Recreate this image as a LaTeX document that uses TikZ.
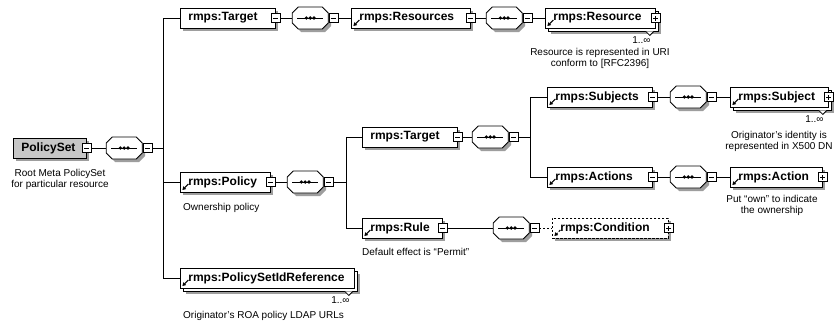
\documentclass[tikz,border=0pt]{standalone}
\usepackage{fontspec}
\setmainfont{Liberation Sans}
\usetikzlibrary{shadows,arrows.meta}
\newcommand\labfont{\fontsize{12}{14}\selectfont\bfseries}
\newcommand\notefont{\fontsize{10}{11.5}\selectfont}
\begin{document}
\begin{tikzpicture}[x=1pt,y=-1pt,
  link/.style={line width=0.8pt},
  base/.style={draw=black, line width=0.8pt, rectangle, fill=white,
    inner xsep=8pt, inner ysep=0pt, minimum height=20pt, anchor=west,
    font=\labfont, align=left},
  shad/.style={drop shadow={shadow xshift=3pt, shadow yshift=-3pt,
    fill=black!38, opacity=1}},
  multi/.style={drop shadow={shadow xshift=6pt, shadow yshift=-6pt,
      fill=black!38, opacity=1},
    copy shadow={shadow xshift=3pt, shadow yshift=-3pt, draw=black,
      fill=white, line width=0.8pt}},
  refmark/.style={path picture={
    \draw[line width=1pt,-{Triangle[length=3.4pt,width=3.8pt]}]
      ([xshift=8pt,yshift=8pt]path picture bounding box.south west) --
      ([xshift=2pt,yshift=2pt]path picture bounding box.south west);}},
  seq/.style={rectangle, minimum width=36pt, minimum height=22pt,
    inner sep=0pt, anchor=west},
  octo/.pic={
    \fill[black!38] (-9,-8) -- (15,-8) -- (21,-2) -- (21,8) -- (15,14)
      -- (-9,14) -- (-15,8) -- (-15,-2) -- cycle;
    \filldraw[fill=white,line width=0.8pt] (-12,-11) -- (12,-11) -- (18,-5)
      -- (18,5) -- (12,11) -- (-12,11) -- (-18,5) -- (-18,-5) -- cycle;
    \draw[line width=1pt] (-13,0) -- (13,0);
    \foreach \d in {-3.8,0,3.8} \fill (\d,0) circle (1.8pt);
  },
  pmbox/.style={rectangle, draw=black, line width=0.8pt, fill=white,
    minimum size=9pt, inner sep=0pt},
  minus/.style={pmbox, path picture={
    \draw[line width=0.8pt] ([xshift=2pt]path picture bounding box.west) --
      ([xshift=-2pt]path picture bounding box.east);}},
  plus/.style={pmbox, path picture={
    \draw[line width=0.8pt] ([xshift=2pt]path picture bounding box.west) --
      ([xshift=-2pt]path picture bounding box.east);
    \draw[line width=0.8pt] ([yshift=2pt]path picture bounding box.south) --
      ([yshift=-2pt]path picture bounding box.north);}},
  note/.style={font=\notefont, align=center, inner sep=0pt, anchor=north},
  lnote/.style={font=\notefont, align=left, inner sep=0pt, anchor=north west},
  card/.style={font=\notefont, inner sep=0pt, anchor=north east},
]
\path[fill=white] (0,0) rectangle (838,327);
\useasboundingbox (0,0) rectangle (838,327);

% root element and its sequence
\node[base,shad,fill=black!22,text width=57pt] (ps) at (13,148) {PolicySet};
\node[minus] (psm) at (ps.east) {};
\node[seq] (s0) at (106,148) {};
\pic at (s0.center) {octo};
\node[minus] (s0m) at ([xshift=5pt]s0.east) {};
\coordinate (j0) at (163,148);

% rmps:Target -> rmps:Resources -> rmps:Resource
\node[base,shad,text width=79pt] (t1) at (180,18) {rmps:Target};
\node[minus] (t1m) at (t1.east) {};
\node[seq] (s1) at (292,18) {};
\pic at (s1.center) {octo};
\node[minus] (s1m) at ([xshift=5pt]s1.east) {};
\node[base,shad,refmark,text width=103pt] (res) at (351,18) {rmps:Resources};
\node[minus] (resm) at (res.east) {};
\node[seq] (s2) at (486,18) {};
\pic at (s2.center) {octo};
\node[minus] (s2m) at ([xshift=5pt]s2.east) {};
\node[base,multi,refmark,text width=94pt] (rs) at (545,18) {rmps:Resource};
\node[plus] (rsp) at (rs.east) {};

% rmps:Policy
\node[base,shad,refmark,text width=74pt] (pol) at (180,182) {rmps:Policy};
\node[minus] (polm) at (pol.east) {};
\node[seq] (s3) at (287,182) {};
\pic at (s3.center) {octo};
\node[minus] (s3m) at ([xshift=5pt]s3.east) {};
\coordinate (j1) at (346,182);

% rmps:Target inside the policy
\node[base,shad,text width=79pt] (t2) at (362,137) {rmps:Target};
\node[minus] (t2m) at (t2.east) {};
\node[seq] (s4) at (472,137) {};
\pic at (s4.center) {octo};
\node[minus] (s4m) at ([xshift=5pt]s4.east) {};
\coordinate (j2) at (530,137);

% subjects
\node[base,shad,refmark,text width=89pt] (subs) at (547,97) {rmps:Subjects};
\node[minus] (subsm) at (subs.east) {};
\node[seq] (s5) at (670,97) {};
\pic at (s5.center) {octo};
\node[minus] (s5m) at ([xshift=5pt]s5.east) {};
\node[base,multi,refmark,text width=82pt] (sub) at (730,97) {rmps:Subject};
\node[plus] (subp) at (sub.east) {};

% actions
\node[base,shad,refmark,text width=89pt] (acts) at (547,177) {rmps:Actions};
\node[minus] (actsm) at (acts.east) {};
\node[seq] (s6) at (670,177) {};
\pic at (s6.center) {octo};
\node[minus] (s6m) at ([xshift=5pt]s6.east) {};
\node[base,shad,refmark,text width=76pt] (act) at (730,177) {rmps:Action};
\node[plus] (actp) at (act.east) {};

% rule and optional condition
\node[base,shad,refmark,text width=64pt] (rule) at (362,228) {rmps:Rule};
\node[minus] (rulem) at (rule.east) {};
\node[seq] (s7) at (493,228) {};
\pic at (s7.center) {octo};
\node[minus] (s7m) at ([xshift=5pt]s7.east) {};
\node[base,shad,refmark,dash pattern=on 2.4pt off 1.6pt,text width=100pt] (cond) at (552,228) {rmps:Condition};
\node[plus] (condp) at (cond.east) {};

% policy set references
\node[base,multi,refmark,text width=158pt] (psir) at (180,278) {rmps:PolicySetIdReference};

% connectors
\draw[link] (psm.east) -- (s0.west);
\draw[link] (s0m.east) -- (j0);
\draw[link] (j0) |- (t1.west);
\draw[link] (j0) |- (pol.west);
\draw[link] (j0) |- (psir.west);
\draw[link] (t1m.east) -- (s1.west);
\draw[link] (s1m.east) -- (res.west);
\draw[link] (resm.east) -- (s2.west);
\draw[link] (s2m.east) -- (rs.west);
\draw[link] (polm.east) -- (s3.west);
\draw[link] (s3m.east) -- (j1);
\draw[link] (j1) |- (t2.west);
\draw[link] (j1) |- (rule.west);
\draw[link] (t2m.east) -- (s4.west);
\draw[link] (s4m.east) -- (j2);
\draw[link] (j2) |- (subs.west);
\draw[link] (j2) |- (acts.west);
\draw[link] (subsm.east) -- (s5.west);
\draw[link] (s5m.east) -- (sub.west);
\draw[link] (actsm.east) -- (s6.west);
\draw[link] (s6m.east) -- (act.west);
\draw[link] (rulem.east) -- (s7.west);
\draw[link,dash pattern=on 2pt off 2pt] (s7m.east) -- (cond.west);

% repetition marks under the stacked boxes
\foreach \n in {rs,sub,psir}{
  \filldraw[link,fill=white]
    ([xshift=-10pt,yshift=-3pt]\n.south east) --
    ([xshift=-6pt,yshift=-7pt]\n.south east) --
    ([xshift=-2pt,yshift=-3pt]\n.south east);
}
\node[card] (rsc) at ([xshift=-5pt,yshift=-8pt]rs.south east) {1..∞};
\node[card] (subc) at ([xshift=-5pt,yshift=-8pt]sub.south east) {1..∞};
\node[card] (psirc) at ([xshift=-5pt,yshift=-8pt]psir.south east) {1..∞};

% annotations
\node[note] (psn) at (60,169) {Root Meta PolicySet\\for particular resource};
\node[note] (rsn) at (600,48) {Resource is represented in URI\\conform to [RFC2396]};
\node[note] (subn) at (779,131) {Originator's identity is\\represented in X500 DN};
\node[note] (actn) at (772,195) {Put “own” to indicate\\the ownership};
\node[lnote] (poln) at (183,203) {Ownership policy};
\node[lnote] (rulen) at (362,248) {Default effect is “Permit”};
\node[lnote] (psirn) at (183,311) {Originator's ROA policy LDAP URLs};
\end{tikzpicture}
\end{document}
